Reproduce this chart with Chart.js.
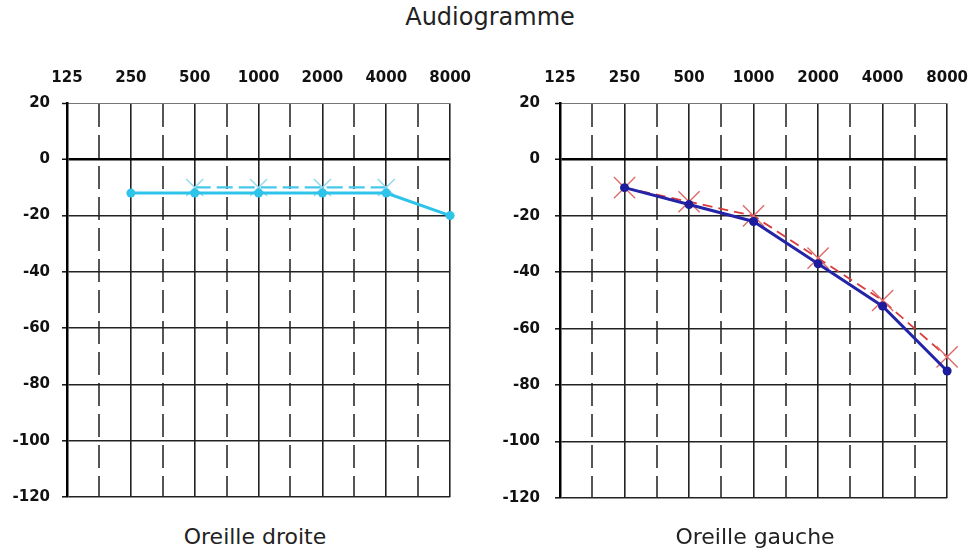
<!DOCTYPE html>
<html>
<head>
<meta charset="utf-8">
<script src="https://cdn.jsdelivr.net/npm/chart.js@4.4.1/dist/chart.umd.min.js"></script>
<style>
  html, body { margin: 0; padding: 0; background: #fff; }
  #page { position: relative; width: 970px; height: 550px; overflow: hidden; font-family: 'DejaVu Sans', sans-serif; color: #222; }
  .txt { position: absolute; white-space: nowrap; transform: translateX(-50%); z-index: 2; }
  #title { left: 490px; top: 5px; font-size: 24px; line-height: 24px; }
  .cap { top: 526px; font-size: 22px; line-height: 22px; }
  canvas { position: absolute; top: 60px; }
  #chart-droite { left: 0; }
  #chart-gauche { left: 480px; }
</style>
</head>
<body>
<div id="page">
  <div id="title" class="txt">Audiogramme</div>
  <canvas id="chart-droite" width="487" height="458"></canvas>
  <canvas id="chart-gauche" width="504" height="462"></canvas>
  <div class="txt cap" style="left:255px">Oreille droite</div>
  <div class="txt cap" style="left:755px">Oreille gauche</div>
</div>
<script>
var freqs = [125, 250, 500, 1000, 2000, 4000, 8000];
var freqLabels = ["125", "250", "500", "1000", "2000", "4000", "8000"];
var dbTicks = [-120, -100, -80, -60, -40, -20, 0, 20];

// oreille droite
var droiteSolid = [null, -12, -12, -12, -12, -12, -20];
var droiteDashed = [null, null, -10, -10, -10, -10, null];
// oreille gauche
var gaucheSolid = [null, -10, -16, -22, -37, -52, -75];
var gaucheDashed = [null, -10, -15, -20, -35, -50, -70];

Chart.defaults.font.family = "'DejaVu Sans', sans-serif";

function points(values) {
  var out = [];
  for (var i = 0; i < freqs.length; i++) {
    if (values[i] !== null) out.push({x: freqs[i], y: values[i]});
  }
  return out;
}

// octave lines + half-octave lines in between
function gridTicks(scale) {
  var t = [];
  for (var i = 0; i < freqs.length; i++) {
    t.push({value: freqs[i]});
    if (i < freqs.length - 1) t.push({value: Math.sqrt(freqs[i] * freqs[i + 1])});
  }
  scale.ticks = t;
}

function makeOptions(yWidth, yPad) {
  return {
    responsive: false,
    animation: false,
    layout: { padding: 0 },
    plugins: {
      legend: { display: false },
      title: { display: false },
      tooltip: { enabled: false }
    },
    scales: {
      x: {
        type: 'logarithmic',
        position: 'top',
        min: 125,
        max: 8000,
        afterBuildTicks: gridTicks,
        afterFit: function (s) { s.height = 43; },
        ticks: {
          autoSkip: false,
          maxRotation: 0,
          padding: 16,
          color: '#111',
          font: { size: 15, weight: 'bold' },
          callback: function (v) {
            var k = freqs.indexOf(v);
            return k >= 0 ? freqLabels[k] : '';
          }
        },
        grid: {
          drawTicks: false,
          color: function (c) { return c.index % 2 ? '#555' : '#222'; },
          lineWidth: function (c) { return c.index % 2 ? 2 : 1.6; }
        },
        border: {
          color: '#777',
          width: 1,
          dash: function (c) { return c.index % 2 ? [23, 8] : []; }
        }
      },
      y: {
        min: -120,
        max: 20,
        afterBuildTicks: function (s) {
          s.ticks = dbTicks.map(function (v) { return {value: v}; });
        },
        afterFit: function (s) { s.width = yWidth; },
        ticks: {
          padding: yPad,
          color: '#111',
          font: { size: 15, weight: 'bold' },
          callback: function (v) { return String(v); }
        },
        grid: {
          tickLength: 5,
          tickColor: '#111',
          tickWidth: 1.5,
          color: function (c) {
            if (!c.tick) return '#222';
            if (c.tick.value === 20) return '#777';
            return c.tick.value === 0 ? '#000' : '#222';
          },
          lineWidth: function (c) {
            if (!c.tick) return 1.6;
            if (c.tick.value === 20) return 1;
            return c.tick.value === 0 ? 2.5 : 1.6;
          }
        },
        border: { color: '#000', width: 2.5 }
      }
    }
  };
}

new Chart(document.getElementById('chart-droite').getContext('2d'), {
  type: 'line',
  data: {
    datasets: [
      {
        data: points(droiteSolid),
        borderColor: '#2ec3e8',
        borderWidth: 3,
        pointStyle: 'circle',
        pointRadius: 4.5,
        pointBackgroundColor: '#2ec3e8',
        pointBorderWidth: 0,
        tension: 0,
        clip: false
      },
      {
        data: points(droiteDashed),
        borderColor: '#45c8ea',
        borderWidth: 2.2,
        borderDash: [16, 6],
        pointStyle: 'crossRot',
        pointRadius: 12,
        pointBorderColor: '#8fd9ef',
        pointBorderWidth: 1.4,
        tension: 0,
        clip: false
      }
    ]
  },
  options: makeOptions(67, 12)
});

new Chart(document.getElementById('chart-gauche').getContext('2d'), {
  type: 'line',
  data: {
    datasets: [
      {
        data: points(gaucheSolid),
        borderColor: '#2424a8',
        borderWidth: 3,
        pointStyle: 'circle',
        pointRadius: 4.5,
        pointBackgroundColor: '#1c1c9c',
        pointBorderWidth: 0,
        tension: 0,
        clip: false
      },
      {
        data: points(gaucheDashed),
        borderColor: '#d83c3c',
        borderWidth: 1.8,
        borderDash: [10, 6],
        pointStyle: 'crossRot',
        pointRadius: 15,
        pointBorderColor: '#e06a6a',
        pointBorderWidth: 1.4,
        tension: 0,
        clip: false
      }
    ]
  },
  options: makeOptions(80, 15)
});
</script>
</body>
</html>
